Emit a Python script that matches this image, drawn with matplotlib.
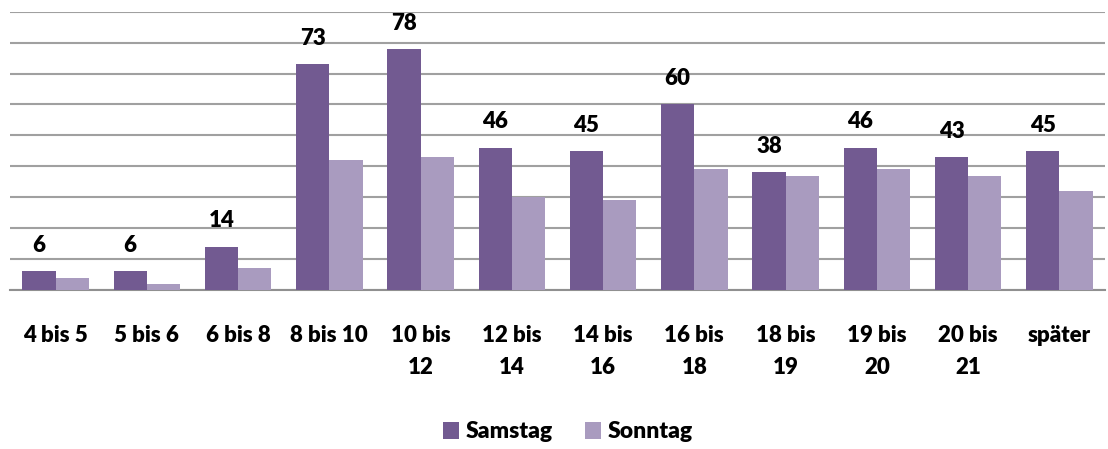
import numpy as np
import matplotlib
matplotlib.use('Agg')
import matplotlib.pyplot as plt

plt.rcParams['font.family'] = ['Lato', 'DejaVu Sans']
plt.rcParams['font.weight'] = 'bold'

categories = ['4 bis 5', '5 bis 6', '6 bis 8', '8 bis 10', '10 bis\n12', '12 bis\n14',
              '14 bis\n16', '16 bis\n18', '18 bis\n19', '19 bis\n20', '20 bis\n21', 'später']
samstag = [6, 6, 14, 73, 78, 46, 45, 60, 38, 46, 43, 45]
sonntag = [4, 2, 7, 42, 43, 30, 29, 39, 37, 39, 37, 32]

col_sa = '#725a91'
col_so = '#a99bbf'
fw = 800

fig = plt.figure(figsize=(11.08, 4.49), dpi=100)
ax = fig.add_axes([10/1108, 1 - 290/449, 1095/1108, (290 - 11.7)/449])

x = np.arange(len(categories))
w = 0.365
b1 = ax.bar(x - w/2, samstag, w, color=col_sa, label='Samstag', zorder=3)
b2 = ax.bar(x + w/2, sonntag, w, color=col_so, label='Sonntag', zorder=3)

for xi, v in zip(x, samstag):
    ax.annotate(str(v), (xi - w/2, v), xytext=(0, 11), textcoords='offset points',
                ha='center', va='bottom', fontsize=16, fontweight=fw)

ax.set_xlim(-0.5, len(categories) - 0.5)
ax.set_ylim(0, 90)
ax.set_yticks(np.arange(0, 91, 10))
ax.yaxis.grid(True, color='#a0a0a0', linewidth=1.5, zorder=0)
ax.tick_params(axis='y', left=False, labelleft=False)
ax.set_xticks(x)
ax.set_xticklabels(categories, fontsize=16, fontweight=fw, linespacing=1.65)
ax.tick_params(axis='x', bottom=False, pad=22)
for s in ['top', 'right', 'left']:
    ax.spines[s].set_visible(False)
ax.spines['bottom'].set_color('#909090')
ax.spines['bottom'].set_linewidth(1.5)

fig.legend(handles=[b1, b2], loc='center', bbox_to_anchor=(568/1108, 1 - 432/449),
           ncol=2, frameon=False, prop={'size': 16.5, 'weight': fw},
           handlelength=0.7, handleheight=0.7, handletextpad=0.3, columnspacing=1.4)

fig.savefig('out.png', dpi=100)
